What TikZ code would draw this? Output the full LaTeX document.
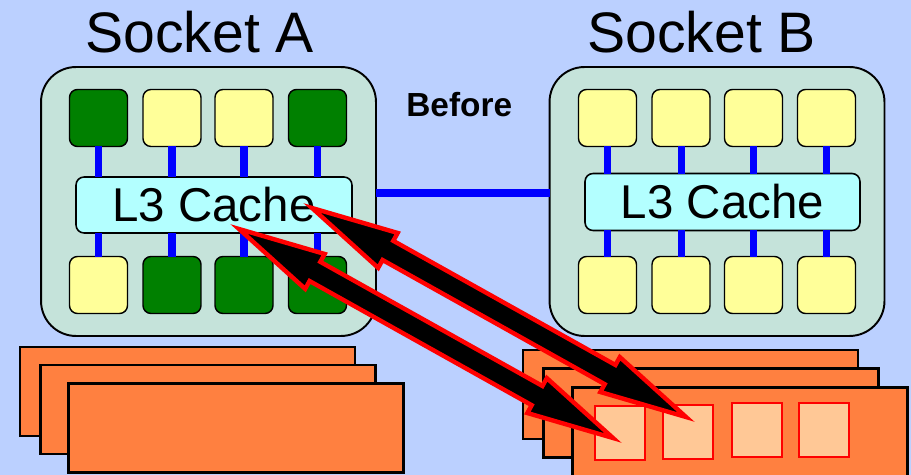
\documentclass[tikz,border=0pt]{standalone}
\usepackage{fontspec}
\setmainfont{Liberation Sans}
\usetikzlibrary{calc}

\definecolor{bg}{RGB}{187,208,255}
\definecolor{sockfill}{RGB}{197,227,218}
\definecolor{coreon}{RGB}{0,128,0}
\definecolor{coreoff}{RGB}{255,255,153}
\definecolor{cachefill}{RGB}{179,255,255}
\definecolor{dimm}{RGB}{255,128,64}
\definecolor{pagefill}{RGB}{255,200,150}

\tikzset{
  title/.style={inner sep=0, anchor=base west, font=\fontsize{32.5}{32.5}\selectfont},
  socket/.style={draw=black, line width=1.1pt, fill=sockfill, rounded corners=0.7cm,
    inner sep=0, outer sep=0, minimum width=6.7cm, minimum height=5.38cm},
  core/.style={draw=black, line width=0.8pt, rounded corners=0.16cm,
    minimum width=1.16cm, minimum height=1.14cm, inner sep=0, outer sep=0},
  cache/.style={draw=black, line width=0.9pt, fill=cachefill, rounded corners=0.16cm,
    inner sep=0, outer sep=0, minimum width=5.52cm, minimum height=1.12cm,
    font=\fontsize{27}{27}\selectfont},
  bus/.style={blue, line width=4pt},
  dimmbox/.style={draw=black, line width=1.3pt, fill=dimm, minimum width=6.7cm,
    minimum height=1.78cm, inner sep=0, outer sep=0},
  pagebox/.style={draw=red, line width=1.4pt, fill=pagefill, minimum width=1cm,
    minimum height=1.08cm, inner sep=0, outer sep=0},
  fatarrow/.style={fill=black, draw=red, line width=2.5pt, line join=miter},
}

% double-headed block arrow between two named points
\newcommand\dblarrow[2]{%
  \filldraw[fatarrow] (#1)
    -- ($(#1)!1.74cm!(#2)!0.4cm!90:(#2)$)
    -- ($(#1)!1.74cm!(#2)!0.22cm!90:(#2)$)
    -- ($(#2)!1.74cm!(#1)!0.22cm!-90:(#1)$)
    -- ($(#2)!1.74cm!(#1)!0.4cm!-90:(#1)$)
    -- (#2)
    -- ($(#2)!1.74cm!(#1)!0.4cm!90:(#1)$)
    -- ($(#2)!1.74cm!(#1)!0.22cm!90:(#1)$)
    -- ($(#1)!1.74cm!(#2)!0.22cm!-90:(#2)$)
    -- ($(#1)!1.74cm!(#2)!0.4cm!-90:(#2)$)
    -- cycle;}

\begin{document}
\begin{tikzpicture}[x=0.02cm, y=-0.02cm]
  \clip (0,0) rectangle (911,475);
  \fill[bg] (0,0) rectangle (911,475);

  % titles
  \node[title] (titleA) at (85,53) {Socket A};
  \node[title] (titleB) at (587,53) {Socket B};
  \node[inner sep=0, anchor=base west, font=\bfseries\fontsize{19}{19}\selectfont]
    (before) at (406,117) {Before};

  % sockets
  \node[socket] (sA) at (208.5,201.5) {};
  \node[socket] (sB) at (717,201.5) {};

  % caches
  \node[cache] (cA) at (214,205) {L3 Cache};
  \node[cache, minimum width=5.5cm, minimum height=1.14cm] (cB) at (722.5,202) {L3 Cache};

  % cores of socket A
  \foreach \i/\x/\ct/\cb in {1/98.5/coreon/coreoff, 2/172/coreoff/coreon,
                             3/244/coreoff/coreon, 4/317.5/coreon/coreon} {
    \node[core, fill=\ct] (at\i) at (\x,118) {};
    \node[core, fill=\cb] (ab\i) at (\x,285) {};
    \draw[bus] (at\i.south) -- (at\i.south |- cA.north);
    \draw[bus] (ab\i.north) -- (ab\i.north |- cA.south);
  }
  % cores of socket B
  \foreach \i/\x in {1/607.5, 2/681, 3/753.5, 4/826.5} {
    \node[core, fill=coreoff] (bt\i) at (\x,118) {};
    \node[core, fill=coreoff] (bb\i) at (\x,285) {};
    \draw[bus] (bt\i.south) -- (bt\i.south |- cB.north);
    \draw[bus] (bb\i.north) -- (bb\i.north |- cB.south);
  }

  % socket interconnect
  \draw[bus] ($(sA.east)+(0,-8.5)$) -- ($(sB.west)+(0,-8.5)$);

  % memory of socket A
  \node[dimmbox] (mA1) at (187.5,391.5) {};
  \node[dimmbox] (mA2) at (208,409.5) {};
  \node[dimmbox] (mA3) at (236,428) {};

  % memory of socket B
  \node[dimmbox] (mB1) at (690.5,394.5) {};
  \node[dimmbox] (mB2) at (711,413) {};
  \node[dimmbox] (mB3) at (740,432) {};
  \node[pagebox] (p1) at (620,433) {};
  \node[pagebox] (p2) at (688,432) {};
  \node[pagebox] (p3) at (757,430) {};
  \node[pagebox] (p4) at (824,430) {};

  % remote accesses
  \coordinate (c1) at (312,208);
  \coordinate (m1) at (686,417);
  \coordinate (c2) at (239,229);
  \coordinate (m2) at (613,438);
  \dblarrow{c1}{m1}
  \dblarrow{c2}{m2}
\end{tikzpicture}
\end{document}
